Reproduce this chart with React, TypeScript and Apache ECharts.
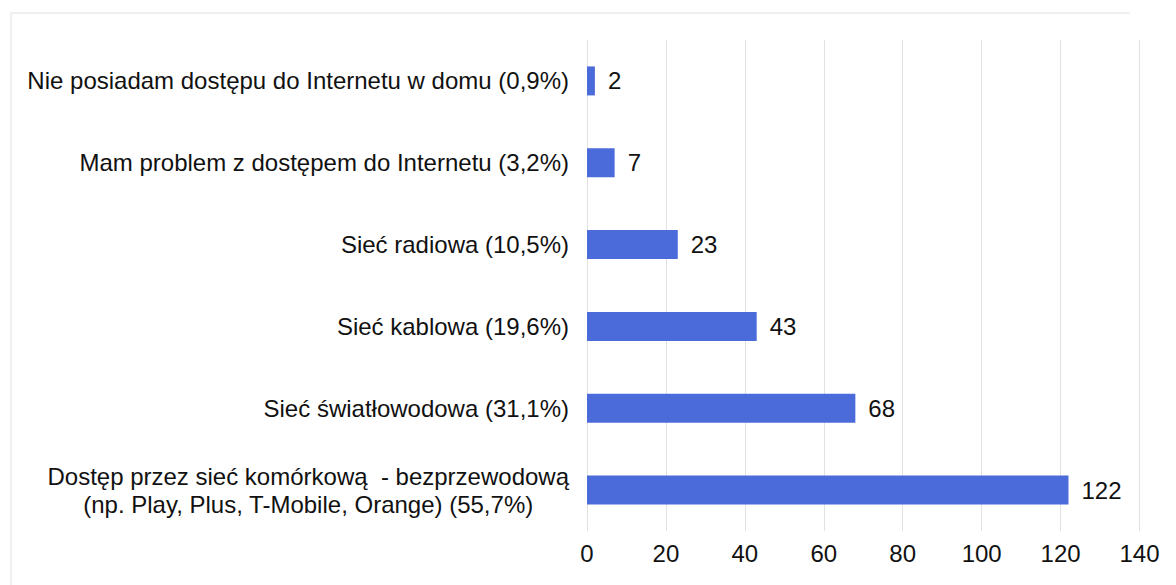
import React, { useEffect, useRef } from "react";
import * as echarts from "echarts";

const categories: string[] = [
  "Dostęp przez sieć komórkową  - bezprzewodową\n(np. Play, Plus, T-Mobile, Orange) (55,7%)",
  "Sieć światłowodowa (31,1%)",
  "Sieć kablowa (19,6%)",
  "Sieć radiowa (10,5%)",
  "Mam problem z dostępem do Internetu (3,2%)",
  "Nie posiadam dostępu do Internetu w domu (0,9%)",
];
const values: number[] = [122, 68, 43, 23, 7, 2];
const xTicks = { min: 0, max: 140, interval: 20 };

export default function App() {
  const ref = useRef<HTMLDivElement>(null);
  useEffect(() => {
    if (!ref.current) return;
    const chart = echarts.init(ref.current, null, { renderer: "svg" });
    const font = "'Liberation Sans', Arial, sans-serif";
    chart.setOption({
      animation: false,
      backgroundColor: "#ffffff",
      textStyle: { fontFamily: font },
      grid: { left: 587, right: 36.5, top: 40, bottom: 54, containLabel: false },
      graphic: [
        {
          type: "polyline",
          shape: { points: [[11, 585], [11, 13], [1130, 13]] },
          style: { stroke: "#ececec", lineWidth: 1.5, fill: "none" },
          silent: true,
        },
      ],
      xAxis: {
        type: "value",
        min: xTicks.min,
        max: xTicks.max,
        interval: xTicks.interval,
        axisLine: { show: false },
        axisTick: { show: false },
        splitLine: { show: true, lineStyle: { color: "#e2e2e2", width: 1 } },
        axisLabel: { color: "#111", fontSize: 24, fontFamily: font, margin: 10 },
      },
      yAxis: {
        type: "category",
        data: categories,
        axisLine: { show: false },
        axisTick: { show: false },
        splitLine: { show: false },
        axisLabel: {
          color: "#111",
          fontSize: 24,
          fontFamily: font,
          margin: 18,
          lineHeight: 28,
          formatter: (v: string) =>
            v
              .split("\n")
              .map((l) => "{c|" + l + "}")
              .join("\n"),
          rich: {
            c: { align: "center", fontSize: 24, fontFamily: font, color: "#111", lineHeight: 28 },
          },
        },
      },
      series: [
        {
          type: "bar",
          data: values,
          barWidth: 29,
          itemStyle: { color: "#4a6bd9" },
          label: {
            show: true,
            position: "right",
            distance: 13,
            color: "#111",
            fontSize: 24,
            fontFamily: font,
          },
        },
      ],
    });
    return () => chart.dispose();
  }, []);
  return (
    <div
      ref={ref}
      style={{ position: "absolute", left: 0, top: 0, width: 1176, height: 585 }}
    />
  );
}
